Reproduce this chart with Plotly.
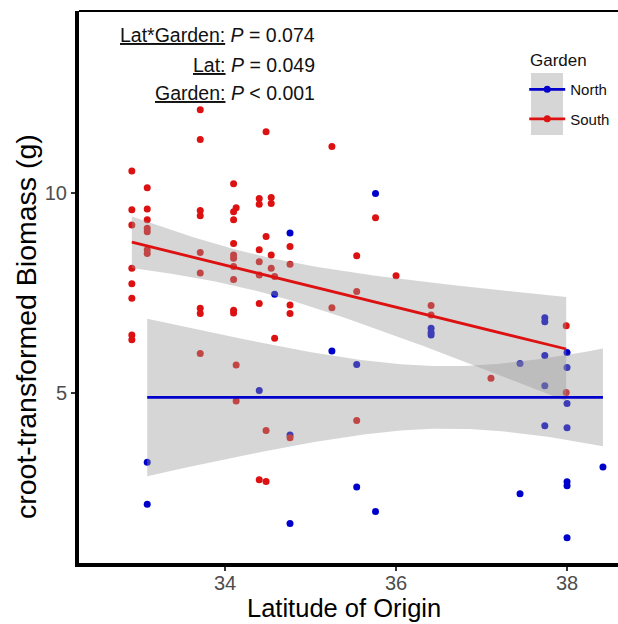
import numpy as np
import plotly.graph_objects as go

# ---- data ----
south_lat = [32.91, 32.91, 32.91, 32.91, 32.91, 32.91, 32.91, 32.91,
             33.09, 33.09, 33.09, 33.09, 33.09, 33.09, 33.09,
             33.71, 33.71, 33.71, 33.71, 33.71, 33.71, 33.71, 33.71, 33.71,
             34.10, 34.13, 34.10, 34.10, 34.10, 34.10, 34.10, 34.10, 34.10, 34.10, 34.10, 34.13, 34.13,
             34.40, 34.40, 34.40, 34.40, 34.40, 34.40, 34.40,
             34.48, 34.48, 34.48, 34.48,
             34.54, 34.54, 34.54, 34.54, 34.58, 34.58,
             34.76, 34.76, 34.76, 34.76, 34.76,
             35.25, 35.25,
             35.54, 35.54, 35.54,
             35.76, 36.00, 36.41, 36.41, 37.11, 37.99, 37.99]
south_bio = [10.55, 9.58, 9.20, 8.12, 7.73, 7.37, 6.45, 6.33,
             10.13, 9.60, 9.33, 9.12, 9.03, 8.58, 8.49,
             12.08, 11.34, 9.56, 9.43, 8.51, 8.00, 7.12, 6.99, 5.99,
             10.23, 9.63, 9.53, 9.33, 8.74, 8.45, 8.37, 8.16, 7.84, 7.07, 7.00, 5.70, 4.80,
             9.86, 9.72, 8.58, 8.28, 7.95, 7.24, 2.83,
             11.53, 8.91, 4.06, 2.79,
             9.89, 9.74, 8.45, 8.12, 7.91, 6.37,
             8.66, 8.22, 7.20, 6.99, 3.88,
             11.16, 7.13,
             8.43, 7.54, 4.31,
             9.38, 7.93, 7.19, 6.95, 5.37, 6.68, 5.01]

north_lat = [33.09, 33.09, 34.40, 34.58, 34.76, 34.76, 34.76, 35.25,
             35.54, 35.54, 35.76, 35.76, 36.41, 36.41, 36.41,
             37.45, 37.45, 37.74, 37.74, 37.74, 37.74, 37.74,
             38.00, 38.00, 38.00, 38.00, 38.00, 38.00, 38.00, 38.42]
north_bio = [3.27, 2.22, 5.06, 7.47, 9.00, 3.95, 1.74, 6.05,
             5.71, 2.65, 9.99, 2.04, 6.62, 6.51, 6.45,
             5.74, 2.48, 6.88, 6.78, 5.94, 5.18, 4.18,
             6.01, 5.64, 4.74, 4.13, 2.78, 2.68, 1.38, 3.15]

# model fit (value at left end, slope) and CI shape parameters
south_fit = {"x0": 32.91, "x1": 37.99, "y0": 8.77, "slope": -0.5256, "a": 0.45, "b": 0.33, "c": 34.3}
north_fit = {"x0": 33.09, "x1": 38.42, "y0": 4.89, "slope": 0.0, "a": 0.78, "b": 0.515, "c": 36.6}

p_labels = ["<u>Lat*Garden:</u> <i>P</i> = 0.074",
            "<u>Lat:</u> <i>P</i> = 0.049",
            "<u>Garden:</u> <i>P</i> < 0.001"]

x_title = "Latitude of Origin"
y_title = "croot-transformed Biomass (g)"
legend_title = "Garden"

RED = "#dd1111"
BLUE = "#0000cc"
FONT = "Liberation Sans, Arial, sans-serif"


def fit_curve(f):
    xs = np.linspace(f["x0"], f["x1"], 100)
    ys = f["y0"] + f["slope"] * (xs - f["x0"])
    hw = np.sqrt(f["a"] ** 2 + (f["b"] * (xs - f["c"])) ** 2)
    return xs, ys, ys + hw, ys - hw


fig = go.Figure()

# points
fig.add_trace(go.Scatter(x=north_lat, y=north_bio, mode="markers",
                         marker=dict(color=BLUE, size=7), showlegend=False, hoverinfo="skip"))
fig.add_trace(go.Scatter(x=south_lat, y=south_bio, mode="markers",
                         marker=dict(color=RED, size=7), showlegend=False, hoverinfo="skip"))

# ribbons
for f in (north_fit, south_fit):
    xs, ys, up, lo = fit_curve(f)
    fig.add_trace(go.Scatter(x=np.concatenate([xs, xs[::-1]]),
                             y=np.concatenate([up, lo[::-1]]),
                             mode="lines", fill="toself",
                             fillcolor="rgba(153,153,153,0.4)",
                             line=dict(width=0), showlegend=False, hoverinfo="skip"))

# fitted lines
for f, col in ((north_fit, BLUE), (south_fit, RED)):
    xs, ys, up, lo = fit_curve(f)
    fig.add_trace(go.Scatter(x=xs, y=ys, mode="lines", line=dict(color=col, width=2.8),
                             showlegend=False, hoverinfo="skip"))

# legend entries
for name, col in (("North", BLUE), ("South", RED)):
    fig.add_trace(go.Scatter(x=[None], y=[None], mode="lines+markers", name=name,
                             legendgroup=name,
                             line=dict(color=col, width=2.8),
                             marker=dict(color=col, size=7)))

# p-value annotations
ann_y = [0.9565, 0.9022, 0.8514]
for txt, yy in zip(p_labels, ann_y):
    fig.add_annotation(text=txt, xref="paper", yref="paper", x=0.4416, y=yy,
                       xanchor="right", yanchor="middle", showarrow=False,
                       font=dict(family=FONT, size=19.5, color="#111111"))

# axis titles and legend title
fig.add_annotation(text=x_title, xref="paper", yref="paper", x=0.4925, y=-0.0815,
                   xanchor="center", yanchor="middle", showarrow=False,
                   font=dict(family=FONT, size=25.5, color="black"))
fig.add_annotation(text=y_title, xref="paper", yref="paper", x=-0.0983, y=0.4275,
                   xanchor="center", yanchor="middle", showarrow=False, textangle=-90,
                   font=dict(family=FONT, size=28.5, color="black"))
fig.add_annotation(text=legend_title, xref="paper", yref="paper", x=0.8330, y=0.9112,
                   xanchor="left", yanchor="middle", showarrow=False,
                   font=dict(family=FONT, size=17, color="#111111"))

fig.update_layout(
    width=618, height=624,
    margin=dict(l=79, r=0, t=11, b=61),
    paper_bgcolor="white", plot_bgcolor="white",
    font=dict(family=FONT, color="black"),
    legend=dict(x=0.826, y=0.8876, xanchor="left", yanchor="top",
                bgcolor="rgba(0,0,0,0)", tracegroupgap=7, itemwidth=36,
                font=dict(size=15, family=FONT, color="#111111")),
    shapes=[
        dict(type="rect", xref="paper", yref="paper", x0=0.8386, x1=0.898, y0=0.7754, y1=0.8877,
             fillcolor="rgb(214,214,214)", line=dict(width=0), layer="below"),
        dict(type="line", xref="paper", yref="paper", x0=0, x1=1, y0=1, y1=1,
             line=dict(color="black", width=2)),
    ],
)

fig.update_xaxes(range=[32.292, 38.596], tickvals=[34, 36, 38], ticktext=["34", "36", "38"],
                 showgrid=False, zeroline=False, showline=True, linecolor="black", linewidth=4,
                 ticks="outside", ticklen=4, tickwidth=1.5, tickcolor="#333333",
                 ticklabelstandoff=-5,
                 tickfont=dict(size=20, color="#4d4d4d", family=FONT),
                 automargin=False)
fig.update_yaxes(range=[0.75, 14.55], tickvals=[5, 10], ticktext=["5", "10"],
                 showgrid=False, zeroline=False, showline=True, linecolor="black", linewidth=4,
                 ticks="outside", ticklen=4, tickwidth=1.5, tickcolor="#333333",
                 tickfont=dict(size=20, color="#4d4d4d", family=FONT),
                 automargin=False)

fig.write_html("out.html")
